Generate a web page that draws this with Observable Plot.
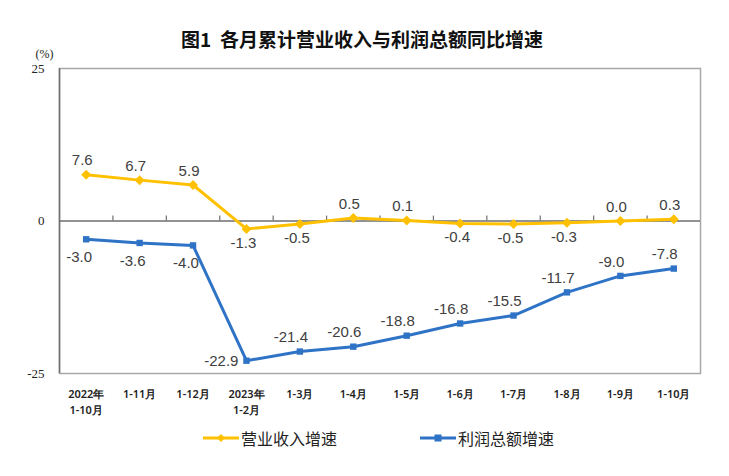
<!DOCTYPE html>
<html>
<head>
<meta charset="utf-8">
<script src="https://cdn.jsdelivr.net/npm/d3@7"></script>
<script src="https://cdn.jsdelivr.net/npm/@observablehq/plot@0.6"></script>
<style>
  html, body { margin: 0; padding: 0; background: #fff; }
  #wrap { position: relative; width: 729px; height: 476px; overflow: hidden; font-family: "Noto Sans CJK SC", sans-serif; }
  #title { position: absolute; top: 27px; left: 0; width: 724px; text-align: center; font-size: 19px; font-weight: bold; line-height: 24px; color: #111; white-space: pre; }
  #chart { position: absolute; top: 36px; left: 0; }
  .leg { position: absolute; top: 428px; height: 20px; display: flex; align-items: center; font-size: 16px; color: #222; }
  .leg svg { margin-right: 2px; }
</style>
</head>
<body>
<div id="wrap">
  <div id="title">图1  各月累计营业收入与利润总额同比增速</div>
  <div id="chart"></div>
  <div class="leg" style="left:203px">
    <svg width="36" height="12"><line x1="0" y1="6" x2="36" y2="6" stroke="#FFC000" stroke-width="3"/><path d="M18,2 L22,6 L18,10 L14,6 Z" fill="#FFC000"/></svg><span>营业收入增速</span>
  </div>
  <div class="leg" style="left:420px">
    <svg width="36" height="12"><line x1="0" y1="6" x2="36" y2="6" stroke="#2E73C5" stroke-width="3"/><rect x="14.5" y="2.5" width="7" height="7" fill="#2E73C5"/></svg><span>利润总额增速</span>
  </div>
</div>
<script>
const categories = ["2022年\n1-10月", "1-11月", "1-12月", "2023年\n1-2月", "1-3月", "1-4月", "1-5月", "1-6月", "1-7月", "1-8月", "1-9月", "1-10月"];
const revenueGrowth = [7.6, 6.7, 5.9, -1.3, -0.5, 0.5, 0.1, -0.4, -0.5, -0.3, 0.0, 0.3];
const profitGrowth = [-3.0, -3.6, -4.0, -22.9, -21.4, -20.6, -18.8, -16.8, -15.5, -11.7, -9.0, -7.8];
const yTicks = [-25, 0, 25];
const yDomain = [-25, 25];

const fmt = v => (v < 0 ? "-" : "") + Math.abs(v).toFixed(1);
const rows = categories.map((c, i) => ({i, c, rev: revenueGrowth[i], prof: profitGrowth[i]}));
const n = categories.length;
const bounds = d3.range(n - 1).map(i => i + 0.5);

const YELLOW = "#FFC000", BLUE = "#2E73C5", AXIS = "#6e6e6e", LBL = "#404040";
const labelFont = {fontSize: 15, fill: LBL, fontFamily: "Liberation Sans, Arial, sans-serif", style: "letter-spacing:0.8px"};

const chart = Plot.plot({
  width: 729,
  height: 382,
  marginTop: 32,
  marginBottom: 45,
  marginLeft: 59,
  marginRight: 29,
  x: {type: "linear", domain: [-0.5, n - 0.5]},
  y: {domain: yDomain},
  style: {background: "transparent"},
  marks: [
    Plot.frame({stroke: "#a8a8a8", strokeWidth: 1.5}),
    Plot.ruleX([-0.5], {stroke: AXIS, strokeWidth: 1.5}),
    Plot.ruleY([0], {stroke: AXIS, strokeWidth: 1.5}),
    Plot.ruleX(bounds, {y1: 0, y2: 0.8, stroke: AXIS, strokeWidth: 1.2}),
    Plot.axisY({ticks: yTicks, tickSize: 0, tickPadding: 15, fontSize: 13, fontFamily: "Liberation Serif, serif", fill: "#222", label: null, tickFormat: d => (d < 0 ? "-" : "") + Math.abs(d)}),
    Plot.axisX({ticks: d3.range(n), tickSize: 0, tickPadding: 13, fontSize: 11, fontWeight: 600, fill: "#222", lineHeight: 1.45, label: null, tickFormat: i => categories[i], textAnchor: "middle"}),
    Plot.text(["(%)"], {frameAnchor: "top-left", dx: -24, dy: -19, fontSize: 12, fontFamily: "Liberation Serif, serif", fill: "#222"}),
    Plot.line(rows, {x: "i", y: "rev", stroke: YELLOW, strokeWidth: 3}),
    Plot.dot(rows, {x: "i", y: "rev", symbol: "diamond2", r: 4.5, fill: YELLOW}),
    Plot.line(rows, {x: "i", y: "prof", stroke: BLUE, strokeWidth: 3}),
    Plot.dot(rows, {x: "i", y: "prof", symbol: "square", r: 3.6, fill: BLUE}),
    // revenue labels
    Plot.text(rows.filter(d => d.rev >= 0), {x: "i", y: "rev", text: d => fmt(d.rev), dx: -4, dy: -14, ...labelFont}),
    Plot.text(rows.filter(d => d.rev < 0), {x: "i", y: "rev", text: d => fmt(d.rev), dx: -3, dy: 14, ...labelFont}),
    // profit labels
    Plot.text(rows.filter(d => d.i < 3), {x: "i", y: "prof", text: d => fmt(d.prof), dx: -7, dy: 18, ...labelFont}),
    Plot.text(rows.filter(d => d.i === 3), {x: "i", y: "prof", text: d => fmt(d.prof), dx: -8, textAnchor: "end", ...labelFont}),
    Plot.text(rows.filter(d => d.i > 3), {x: "i", y: "prof", text: d => fmt(d.prof), dx: -9, dy: -14, ...labelFont})
  ]
});
document.getElementById("chart").appendChild(chart);
</script>
</body>
</html>
